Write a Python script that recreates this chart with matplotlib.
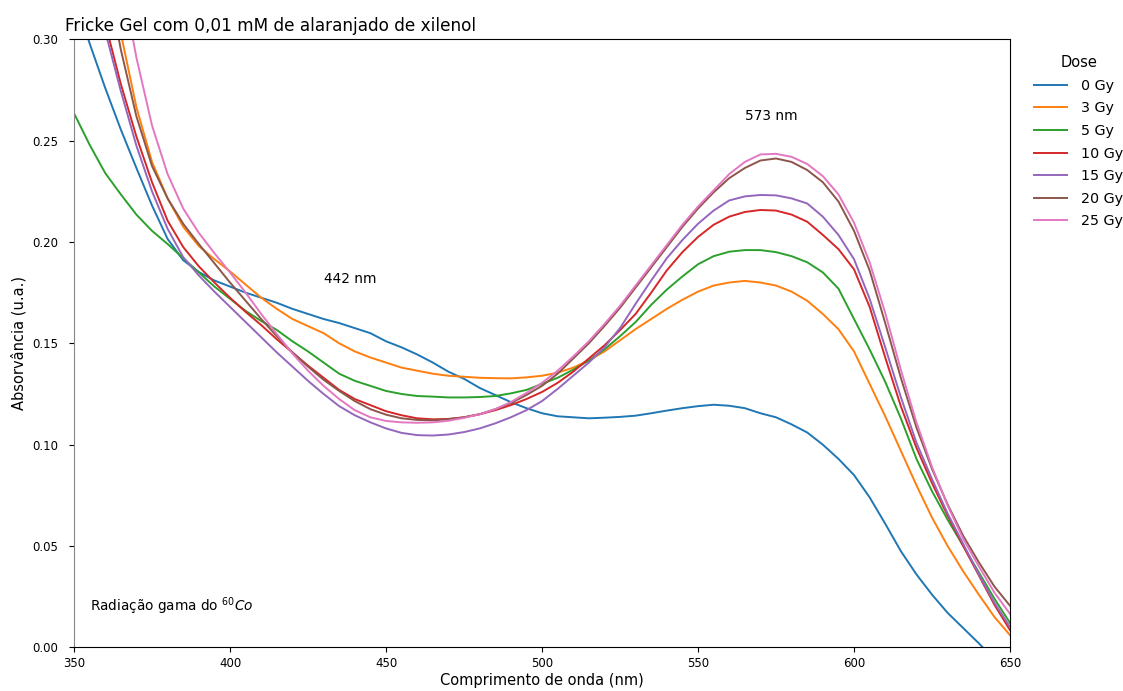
import numpy as np
import matplotlib
matplotlib.use("Agg")
import matplotlib.pyplot as plt

# Wavelength grid (nm)
wavelength = np.arange(350, 651, 5)

doses = ["0 Gy", "3 Gy", "5 Gy", "10 Gy", "15 Gy", "20 Gy", "25 Gy"]

abs_0gy = [0.322, 0.298, 0.276, 0.2555, 0.2365, 0.218, 0.2015, 0.191, 0.1852, 0.181,
           0.178, 0.175, 0.1725, 0.170, 0.167, 0.1645, 0.162, 0.160, 0.1575, 0.155,
           0.151, 0.148, 0.1445, 0.1405, 0.136, 0.1325, 0.128, 0.1245, 0.121, 0.118,
           0.1155, 0.114, 0.1135, 0.113, 0.1133, 0.1137, 0.1143, 0.1155, 0.1168, 0.118,
           0.119, 0.1197, 0.1192, 0.118, 0.1155, 0.1135, 0.110, 0.106, 0.100, 0.093,
           0.085, 0.074, 0.061, 0.0475, 0.036, 0.026, 0.017, 0.0095, 0.002, -0.006,
           -0.013]

abs_3gy = [0.39, 0.365, 0.345, 0.303, 0.2665, 0.2395, 0.2215, 0.2075, 0.198, 0.1915,
           0.1855, 0.179, 0.1725, 0.167, 0.162, 0.1585, 0.155, 0.150, 0.146, 0.143,
           0.1405, 0.138, 0.1365, 0.135, 0.134, 0.1335, 0.133, 0.1328, 0.1327, 0.1332,
           0.134, 0.1355, 0.138, 0.1415, 0.146, 0.1515, 0.157, 0.162, 0.167, 0.1715,
           0.1755, 0.1785, 0.180, 0.1808, 0.180, 0.1785, 0.1755, 0.171, 0.1645, 0.157,
           0.146, 0.130, 0.114, 0.097, 0.080, 0.064, 0.050, 0.0375, 0.026, 0.015,
           0.006]

abs_5gy = [0.2635, 0.248, 0.234, 0.2235, 0.2135, 0.2055, 0.199, 0.192, 0.185, 0.178,
           0.172, 0.166, 0.161, 0.1566, 0.151, 0.146, 0.1405, 0.135, 0.1315, 0.129,
           0.1265, 0.125, 0.124, 0.1237, 0.1233, 0.1233, 0.1235, 0.124, 0.1253, 0.127,
           0.130, 0.133, 0.137, 0.1415, 0.147, 0.1535, 0.1605, 0.169, 0.1765, 0.183,
           0.189, 0.193, 0.1952, 0.196, 0.196, 0.195, 0.193, 0.190, 0.185, 0.177,
           0.162, 0.147, 0.131, 0.113, 0.093, 0.077, 0.063, 0.050, 0.037, 0.024,
           0.012]

abs_10gy = [0.366, 0.337, 0.308, 0.278, 0.252, 0.2295, 0.2105, 0.1975, 0.188, 0.180,
            0.1725, 0.1655, 0.159, 0.152, 0.1455, 0.139, 0.133, 0.127, 0.1225, 0.1195,
            0.1165, 0.1145, 0.113, 0.1125, 0.1127, 0.1135, 0.115, 0.117, 0.1195, 0.1225,
            0.126, 0.1305, 0.136, 0.1425, 0.149, 0.1565, 0.1645, 0.175, 0.186, 0.195,
            0.2025, 0.2085, 0.2125, 0.2148, 0.2158, 0.2155, 0.2135, 0.210, 0.2035, 0.1965,
            0.1865, 0.168, 0.143, 0.119, 0.0985, 0.081, 0.065, 0.050, 0.0355, 0.021,
            0.0085]

abs_15gy = [0.362, 0.333, 0.304, 0.2745, 0.2475, 0.225, 0.2065, 0.1925, 0.1835, 0.1755,
            0.168, 0.1605, 0.153, 0.1455, 0.1385, 0.1315, 0.125, 0.119, 0.1145, 0.111,
            0.108, 0.1058, 0.1047, 0.1045, 0.105, 0.1062, 0.108, 0.1105, 0.1135, 0.117,
            0.1215, 0.1275, 0.134, 0.1405, 0.148, 0.1575, 0.1695, 0.181, 0.192, 0.201,
            0.209, 0.2155, 0.2205, 0.2225, 0.2232, 0.223, 0.2215, 0.219, 0.2125, 0.2035,
            0.1915, 0.172, 0.148, 0.1235, 0.101, 0.083, 0.066, 0.051, 0.036, 0.022,
            0.010]

abs_20gy = [0.42, 0.378, 0.335, 0.295, 0.262, 0.2375, 0.2215, 0.209, 0.199, 0.1895,
            0.180, 0.171, 0.162, 0.1535, 0.1455, 0.1385, 0.132, 0.1265, 0.1215, 0.1175,
            0.1148, 0.113, 0.1122, 0.112, 0.1125, 0.1135, 0.115, 0.1175, 0.1205, 0.1245,
            0.129, 0.135, 0.1425, 0.150, 0.1585, 0.1675, 0.1775, 0.1875, 0.1975, 0.2075,
            0.2165, 0.2245, 0.2315, 0.2365, 0.2402, 0.2412, 0.2395, 0.2355, 0.2295, 0.220,
            0.2055, 0.186, 0.160, 0.133, 0.1085, 0.088, 0.0705, 0.055, 0.042, 0.030,
            0.0205]

abs_25gy = [0.50, 0.435, 0.38, 0.332, 0.291, 0.2575, 0.2335, 0.2165, 0.2045, 0.1945,
            0.185, 0.175, 0.1645, 0.1545, 0.145, 0.1365, 0.129, 0.1225, 0.117, 0.1135,
            0.1117, 0.111, 0.1108, 0.111, 0.1118, 0.1132, 0.115, 0.1175, 0.121, 0.1255,
            0.1305, 0.1365, 0.1435, 0.151, 0.1595, 0.1685, 0.1785, 0.1885, 0.1985, 0.2085,
            0.2175, 0.2255, 0.2335, 0.2395, 0.2432, 0.2435, 0.242, 0.2385, 0.2325, 0.2235,
            0.2095, 0.190, 0.165, 0.137, 0.111, 0.089, 0.070, 0.0535, 0.040, 0.027,
            0.0165]

series = [abs_0gy, abs_3gy, abs_5gy, abs_10gy, abs_15gy, abs_20gy, abs_25gy]
colors = ["#1f77b4", "#ff7f0e", "#2ca02c", "#d62728", "#9467bd", "#8c564b", "#e377c2"]

fig = plt.figure(figsize=(11.23, 6.91), dpi=100)
ax = fig.add_axes([0.0659, 0.0632, 0.8335, 0.8799])

for label, values, color in zip(doses, series, colors):
    ax.plot(wavelength, values, color=color, lw=1.4, label=label)

ax.set_xlim(350, 650)
ax.set_ylim(0, 0.30)
ax.set_xticks([350, 400, 450, 500, 550, 600, 650])
ax.set_yticks([0.00, 0.05, 0.10, 0.15, 0.20, 0.25, 0.30])
ax.tick_params(labelsize=8.5)
ax.tick_params(axis="y", pad=8)
ax.spines["left"].set_color("#888888")

ax.set_xlabel("Comprimento de onda (nm)", fontsize=10.5, labelpad=2)
ax.set_ylabel("Absorvância (u.a.)", fontsize=10.5, labelpad=4)
fig.text(0.058, 0.955, "Fricke Gel com 0,01 mM de alaranjado de xilenol",
         fontsize=12.2, ha="left", va="baseline")

ax.text(430, 0.18, "442 nm", fontsize=9.8)
ax.text(565, 0.26, "573 nm", fontsize=9.8)
ax.text(355, 0.018, r"Radiação gama do $^{60}Co$", fontsize=9.8)

ax.legend(title="Dose", loc="upper left", bbox_to_anchor=(1.012, 0.995),
          frameon=False, fontsize=10.3, title_fontsize=10.5, handlelength=2.3,
          handletextpad=1.0, labelspacing=0.6)

fig.savefig("out.png", dpi=100)
